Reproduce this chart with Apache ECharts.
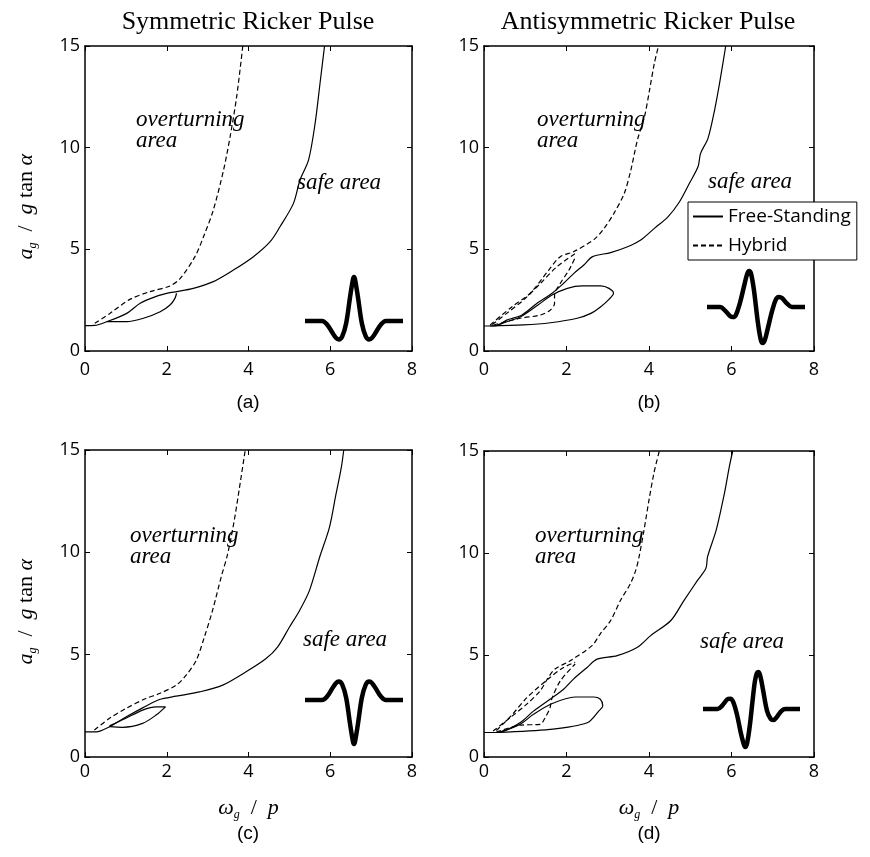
<!DOCTYPE html>
<html lang="en">
<head>
	<meta charset="UTF-8">
	<title>ricker pulse overturning</title>
	<style>
		html, body { margin: 0; padding: 0; background: #fff; }
		#chart { width: 870px; height: 857px; }
	</style>
</head>
<body>
	<div id="chart"></div>
	<script src="https://cdn.jsdelivr.net/npm/echarts@6/dist/echarts.min.js"></script>
	<script>

		// ---- values: [omega_g/p, a_g/(g tan alpha)] ----
		// (a) symmetric pulse
		var freeA = [[0,1.25],[0.24,1.26],[0.53,1.44],[1.02,1.85],[1.35,2.35],[1.76,2.7],[2.08,2.87],[2.24,2.92],[2.65,3.08],[3.14,3.41],[3.63,3.98],[4.12,4.64],[4.53,5.38],[4.77,6.11],[5.1,7.26],[5.26,8.41],[5.47,9.4],[5.63,11.2],[5.75,13.17],[5.86,15]];
		var freeLoopA = [[0.53,1.44],[1.02,1.44],[1.43,1.61],[1.84,1.93],[2.08,2.26],[2.2,2.59],[2.24,2.84]];
		var hybA = [[0.24,1.36],[0.61,1.85],[1.1,2.54],[1.59,2.92],[2.08,3.2],[2.33,3.57],[2.69,4.64],[2.9,5.62],[3.14,6.94],[3.39,8.9],[3.55,10.54],[3.71,12.5],[3.86,15]];

		// (b) antisymmetric pulse
		var freeB = [[0,1.23],[0.3,1.25],[0.55,1.52],[0.92,1.77],[1.28,2.34],[1.65,2.84],[1.93,3.33],[2.18,3.82],[2.42,4.23],[2.63,4.64],[3.07,4.84],[3.48,5.13],[3.8,5.46],[4.13,6.03],[4.46,6.6],[4.74,7.34],[4.98,8.25],[5.19,9.07],[5.25,9.72],[5.43,10.46],[5.59,11.85],[5.71,13.16],[5.86,15]];
		var freeLoopB = [[0.15,1.23],[0.96,1.28],[1.61,1.39],[2.26,1.61],[2.59,1.85],[2.83,2.18],[3.03,2.54],[3.14,2.84],[3.03,3.08],[2.83,3.2],[2.38,3.2],[2.02,3.08],[1.65,2.75],[1.3,2.25],[0.9,1.7],[0.5,1.4],[0.3,1.25]];
		var hybB = [[0.15,1.28],[0.68,2.18],[1.12,2.84],[1.57,3.98],[1.85,4.64],[2.18,4.89],[2.67,5.49],[2.91,6.03],[3.15,6.77],[3.4,7.75],[3.56,8.9],[3.72,10.38],[3.89,11.52],[4.01,12.8],[4.13,14.15],[4.23,15]];
		var hybB2 = [[0.23,1.28],[0.88,1.61],[1.37,1.77],[1.61,2.02],[1.71,2.34],[1.71,2.75],[1.85,3.33],[2.06,3.98],[2.22,4.64]];
		var hybB3 = [[0.2,1.3],[0.55,1.85],[0.96,2.51],[1.37,3.33],[1.77,4.15],[2.22,4.8]];

		// (c) symmetric pulse
		var freeC = [[0,1.23],[0.27,1.23],[0.6,1.48],[1.0,1.95],[1.41,2.4],[1.82,2.81],[2.23,2.97],[2.8,3.18],[3.37,3.51],[3.94,4.16],[4.43,4.81],[4.71,5.37],[5.0,6.34],[5.25,7.16],[5.49,8.13],[5.74,9.76],[5.98,11.22],[6.14,12.84],[6.27,14.14],[6.33,15]];
		var freeLoopC = [[0.6,1.48],[0.92,1.45],[1.41,1.64],[1.74,2.05],[1.97,2.45],[1.74,2.45],[1.41,2.29],[1.0,1.89],[0.6,1.52]];
		var hybC = [[0.23,1.32],[0.6,1.89],[1.0,2.37],[1.49,2.86],[1.82,3.1],[2.23,3.51],[2.47,3.99],[2.72,4.72],[2.92,5.86],[3.12,7.16],[3.33,8.78],[3.49,9.92],[3.65,11.54],[3.78,13.17],[3.92,15]];

		// (d) antisymmetric pulse
		var freeD = [[0,1.2],[0.34,1.2],[0.87,1.68],[1.2,2.25],[1.6,2.83],[1.93,3.32],[2.17,3.82],[2.5,4.39],[2.74,4.8],[3.23,4.97],[3.72,5.38],[4.04,5.95],[4.53,6.69],[4.85,7.68],[5.18,8.67],[5.38,9.25],[5.42,9.82],[5.63,11.13],[5.83,12.94],[5.95,14.26],[6.03,15]];
		var freeLoopD = [[0.34,1.2],[1.6,1.35],[2.5,1.68],[2.78,2.25],[2.88,2.5],[2.82,2.83],[2.66,2.94],[2.21,2.94],[1.64,2.61],[1.2,2.09],[0.87,1.6],[0.34,1.2]];
		var hybD = [[0.22,1.27],[0.63,1.92],[1.03,2.58],[1.36,3.24],[1.56,3.9],[1.72,4.31],[2.09,4.72],[2.62,5.46],[2.82,6.04],[3.07,6.69],[3.31,7.68],[3.55,8.5],[3.68,9.16],[3.76,9.82],[3.88,11.13],[4.0,12.6],[4.12,13.92],[4.25,15]];
		var hybD2 = [[0.3,1.22],[0.87,1.56],[1.36,1.6],[1.48,1.92],[1.6,2.4],[1.64,2.83],[1.85,3.73],[2.21,4.56]];
		var hybD3 = [[0.3,1.3],[0.65,2.0],[1.04,2.91],[1.6,3.9],[1.93,4.39],[2.21,4.64]];

		// pulse insets: [time, amplitude]
		var pulseA = [[-1,0],[-0.65,0],[-0.55,-0.08],[-0.45,-0.25],[-0.37,-0.38],[-0.31,-0.42],[-0.24,-0.35],[-0.16,-0.05],[-0.08,0.55],[-0.02,0.95],[0,1],[0.02,0.95],[0.08,0.55],[0.16,-0.05],[0.24,-0.35],[0.31,-0.42],[0.37,-0.38],[0.45,-0.25],[0.55,-0.08],[0.65,0],[1,0]];
		var pulseB = [[-1,0],[-0.73,0],[-0.63,-0.1],[-0.53,-0.25],[-0.47,-0.28],[-0.41,-0.22],[-0.33,0.1],[-0.24,0.6],[-0.18,0.92],[-0.14,1],[-0.1,0.92],[-0.04,0.45],[0,0],[0.04,-0.45],[0.1,-0.92],[0.14,-1],[0.18,-0.92],[0.24,-0.6],[0.33,-0.1],[0.41,0.22],[0.47,0.28],[0.53,0.25],[0.63,0.1],[0.73,0],[1,0]];
		var pulseC = [[-1,0],[-0.65,0],[-0.55,0.08],[-0.45,0.25],[-0.37,0.38],[-0.31,0.42],[-0.24,0.35],[-0.16,0.05],[-0.08,-0.55],[-0.02,-0.95],[0,-1],[0.02,-0.95],[0.08,-0.55],[0.16,0.05],[0.24,0.35],[0.31,0.42],[0.37,0.38],[0.45,0.25],[0.55,0.08],[0.65,0],[1,0]];
		var pulseD = [[-1,0],[-0.7,0],[-0.6,0.1],[-0.5,0.26],[-0.44,0.28],[-0.38,0.2],[-0.3,-0.15],[-0.22,-0.65],[-0.16,-0.95],[-0.13,-1.03],[-0.09,-0.92],[-0.03,-0.4],[0.02,0.2],[0.07,0.75],[0.11,0.97],[0.14,1],[0.18,0.9],[0.24,0.5],[0.32,-0.05],[0.4,-0.28],[0.45,-0.3],[0.52,-0.22],[0.62,-0.05],[0.7,0],[1,0]];

		var panels = [
			{free: [freeA, freeLoopA], hyb: [hybA]},
			{free: [freeB, freeLoopB], hyb: [hybB, hybB2, hybB3]},
			{free: [freeC, freeLoopC], hyb: [hybC]},
			{free: [freeD, freeLoopD], hyb: [hybD, hybD2, hybD3]}
		];
		var pulses = [pulseA, pulseB, pulseC, pulseD];

		var plotBoxes = [
			{left: 85, top: 46, width: 327, height: 305},
			{left: 484, top: 46, width: 330, height: 305},
			{left: 85, top: 450, width: 327, height: 307},
			{left: 484, top: 451, width: 330, height: 306}
		];
		var pulseBoxes = [
			{left: 305, top: 272.6, width: 98, height: 74.8, min: -0.6, max: 1.1},
			{left: 707, top: 265.6, width: 98, height: 82.8, min: -1.15, max: 1.15},
			{left: 305, top: 673.6, width: 98, height: 74.8, min: -1.1, max: 0.6},
			{left: 703, top: 666.5, width: 97, height: 85, min: -1.15, max: 1.15}
		];

		var serif = '"Liberation Serif", "DejaVu Serif", serif';
		var sans = '"Open Sans", "Liberation Sans", sans-serif';
		var nameRich = {
			i: {fontFamily: serif, fontStyle: 'italic', fontSize: 22, color: '#000', lineHeight: 26},
			s: {fontFamily: serif, fontStyle: 'italic', fontSize: 12, color: '#000', lineHeight: 26, verticalAlign: 'bottom'},
			n: {fontFamily: serif, fontSize: 22, color: '#000', lineHeight: 26}
		};
		var tick = {show: true, inside: true, length: 5, lineStyle: {color: '#000', width: 1}};
		var frame = {show: true, onZero: false, lineStyle: {color: '#000', width: 1.5}};

		var grid = [], xAxis = [], yAxis = [], series = [];

		plotBoxes.forEach(function(b, i){
			grid.push({left: b.left, top: b.top, width: b.width, height: b.height});
			var bottomRow = i >= 2, leftCol = i % 2 === 0;
			xAxis.push({
				type: 'value', gridIndex: i, min: 0, max: 8, interval: 2, position: 'bottom',
				axisLine: frame, axisTick: tick,
				axisLabel: {color: '#000', fontSize: 18, fontFamily: sans, margin: bottomRow ? 6 : 10},
				splitLine: {show: false},
				name: bottomRow ? '{i|ω}{s|g}{n|  /  }{i|p}' : '',
				nameLocation: 'middle', nameGap: 38,
				nameTextStyle: {rich: nameRich}
			});
			xAxis.push({
				type: 'value', gridIndex: i, min: 0, max: 8, interval: 2, position: 'top',
				axisLine: frame, axisTick: tick,
				axisLabel: {show: false}, splitLine: {show: false}
			});
			yAxis.push({
				type: 'value', gridIndex: i, min: 0, max: 15, interval: 5, position: 'left',
				axisLine: frame, axisTick: tick,
				axisLabel: {color: '#000', fontSize: 18, fontFamily: sans, margin: 5},
				splitLine: {show: false},
				name: leftCol ? '{i|a}{s|g}{n|  /  }{i|g}{n| tan }{i|α}{n|   }' : '',
				nameLocation: 'middle', nameGap: 46, nameRotate: 90,
				nameTextStyle: {rich: nameRich}
			});
			yAxis.push({
				type: 'value', gridIndex: i, min: 0, max: 15, interval: 5, position: 'right',
				axisLine: frame, axisTick: tick,
				axisLabel: {show: false}, splitLine: {show: false}
			});

			panels[i].free.forEach(function(d){
				series.push({
					name: 'Free-Standing', type: 'line', xAxisIndex: 2 * i, yAxisIndex: 2 * i,
					data: d, symbol: 'none', smooth: 0.3,
					lineStyle: {color: '#000', width: 1.2, type: 'solid'},
					itemStyle: {color: '#000'}
				});
			});
			panels[i].hyb.forEach(function(d){
				series.push({
					name: 'Hybrid', type: 'line', xAxisIndex: 2 * i, yAxisIndex: 2 * i,
					data: d, symbol: 'none', smooth: 0.3,
					lineStyle: {color: '#000', width: 1.2, type: [5, 3]},
					itemStyle: {color: '#000'}
				});
			});
		});

		// small pulse sketches
		pulseBoxes.forEach(function(p, k){
			var gi = grid.length;
			grid.push({left: p.left, top: p.top, width: p.width, height: p.height});
			xAxis.push({type: 'value', gridIndex: gi, min: -1, max: 1, show: false});
			yAxis.push({type: 'value', gridIndex: gi, min: p.min, max: p.max, show: false});
			series.push({
				type: 'line', xAxisIndex: xAxis.length - 1, yAxisIndex: yAxis.length - 1,
				data: pulses[k], symbol: 'none', smooth: 0.35, clip: false,
				lineStyle: {color: '#000', width: 4.5}
			});
		});

		function label(text, x, y, font, align){
			return {
				type: 'text', x: x, y: y, z: 10,
				style: {text: text, font: font, fill: '#000', align: align || 'left', verticalAlign: 'middle'}
			};
		}
		var italic = 'italic 23px ' + serif;
		var caption = '19px "Liberation Sans", Arial, sans-serif';

		var option = {
			backgroundColor: '#fff',
			animation: false,
			grid: grid,
			xAxis: xAxis,
			yAxis: yAxis,
			series: series,
			legend: {
				data: ['Free-Standing', 'Hybrid'],
				orient: 'vertical', left: 688, top: 202,
				itemWidth: 30, itemHeight: 14, itemGap: 10,
				padding: [5, 6, 5, 4],
				borderColor: '#000', borderWidth: 1, backgroundColor: '#fff',
				itemStyle: {color: 'transparent', borderColor: 'transparent', borderWidth: 0, opacity: 0},
				textStyle: {fontFamily: sans, fontSize: 19, color: '#000'},
				selectedMode: false
			},
			graphic: [
				label('Symmetric Ricker Pulse', 248, 22, '26px ' + serif, 'center'),
				label('Antisymmetric Ricker Pulse', 648, 22, '26px ' + serif, 'center'),
				label('overturning', 136, 120, italic),
				label('area', 136, 141, italic),
				label('safe area', 297, 183, italic),
				label('overturning', 537, 120, italic),
				label('area', 537, 141, italic),
				label('safe area', 708, 182, italic),
				label('overturning', 130, 536, italic),
				label('area', 130, 557, italic),
				label('safe area', 303, 640, italic),
				label('overturning', 535, 536, italic),
				label('area', 535, 557, italic),
				label('safe area', 700, 642, italic),
				label('(a)', 248, 403, caption, 'center'),
				label('(b)', 649, 403, caption, 'center'),
				label('(c)', 248, 834, caption, 'center'),
				label('(d)', 649, 834, caption, 'center')
			]
		};

		var myChart = echarts.init(document.getElementById('chart'));
		myChart.setOption(option);

	</script>
</body>
</html>
